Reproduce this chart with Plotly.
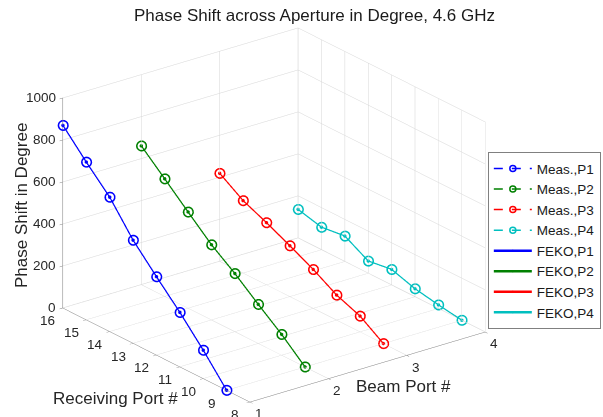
import plotly.graph_objects as go

# ---- data ----
beam_ports = [1, 2, 3, 4]
receiving_ports = [9, 10, 11, 12, 13, 14, 15, 16]
meas_p1 = [0, 135, 259, 373, 491, 640, 751, 870]
meas_p2 = [0, 99, 186, 277, 358, 458, 560, 661]
meas_p3 = [0, 75, 119, 185, 242, 296, 345, 419]
meas_p4 = [0, 17, 38, 74, 58, 121, 107, 136]
feko_p1 = [0, 135, 259, 373, 491, 640, 751, 870]
feko_p2 = [0, 99, 186, 277, 358, 458, 560, 661]
feko_p3 = [0, 75, 119, 185, 242, 296, 345, 419]
feko_p4 = [0, 17, 38, 74, 58, 121, 107, 136]
x_ticks = [1, 2, 3, 4]
y_ticks = [8, 9, 10, 11, 12, 13, 14, 15, 16]
z_ticks = [0, 200, 400, 600, 800, 1000]

colors = ["#0000FF", "#008000", "#FF0000", "#00BFBF"]
meas = [meas_p1, meas_p2, meas_p3, meas_p4]
feko = [feko_p1, feko_p2, feko_p3, feko_p4]

fig = go.Figure()
for i, (bp, vals) in enumerate(zip(beam_ports, meas)):
    fig.add_trace(go.Scatter3d(
        x=[bp] * len(receiving_ports), y=receiving_ports, z=vals,
        mode="lines+markers", name=f"Meas.,P{i+1}",
        line=dict(color=colors[i], width=1.5, dash="dash"),
        marker=dict(symbol="circle-open", size=6, color=colors[i], line=dict(width=1.5, color=colors[i])),
    ))
for i, (bp, vals) in enumerate(zip(beam_ports, feko)):
    fig.add_trace(go.Scatter3d(
        x=[bp] * len(receiving_ports), y=receiving_ports, z=vals,
        mode="lines+markers", name=f"FEKO,P{i+1}",
        line=dict(color=colors[i], width=2.5),
        marker=dict(symbol="circle", size=2, color=colors[i]),
    ))

axis_common = dict(
    showbackground=False, showgrid=True, gridcolor="#d6d6d6", gridwidth=1,
    showline=True, linecolor="#808080", linewidth=1,
    ticks="outside", tickcolor="#808080", ticklen=4,
    showticklabels=False,
    zeroline=False, showspikes=False, autorange=False,
    title=dict(text=""),
)

tick_font = dict(family="Liberation Sans, Arial", size=13.5, color="#262626")
# invisible first annotation (absorbs first-measure glitch)
scene_anns = [dict(x=2.5, y=12, z=500, text=" ", showarrow=False, font=tick_font)]
for v in z_ticks:
    scene_anns.append(dict(x=1, y=16, z=v, text=str(v), showarrow=False,
                           xanchor="right", yanchor="middle", xshift=-5, font=tick_font))
for v in y_ticks:
    scene_anns.append(dict(x=1, y=v, z=0, text=str(v), showarrow=False,
                           xanchor="center", yanchor="middle", xshift=-15, yshift=-13, font=tick_font))
for v in x_ticks:
    scene_anns.append(dict(x=v, y=8, z=0, text=str(v), showarrow=False,
                           xanchor="center", yanchor="middle", xshift=9, yshift=-12, font=tick_font))

th_x, th_y, th_z = -0.5625, -0.7307, 0.387
dist = 1.2
s = 1.47
fig.update_layout(
    width=603, height=417,
    margin=dict(l=0, r=0, t=0, b=0),
    paper_bgcolor="white",
    font=dict(family="Liberation Sans, Arial", color="#262626"),
    title=dict(text="Phase Shift across Aperture in Degree, 4.6 GHz",
               x=0.5216, xanchor="center", y=0.964, yanchor="middle",
               font=dict(size=17, color="#1a1a1a")),
    scene=dict(
        domain=dict(x=[0.0, 0.909], y=[0.0, 0.969]),
        xaxis=dict(axis_common, range=[0.999, 4.001], tickvals=x_ticks),
        yaxis=dict(axis_common, range=[8, 16.001], tickvals=y_ticks),
        zaxis=dict(axis_common, range=[-0.5, 1000], tickvals=z_ticks),
        aspectmode="manual", aspectratio=dict(x=1 * s, y=1.033 * s, z=0.767 * s),
        camera=dict(eye=dict(x=th_x * dist, y=th_y * dist, z=th_z * dist),
                    center=dict(x=0, y=0, z=0), up=dict(x=0, y=0, z=1),
                    projection=dict(type="orthographic")),
        annotations=scene_anns,
    ),
    legend=dict(x=0.809, y=0.635, xanchor="left", yanchor="top",
                bordercolor="#808080", borderwidth=1, bgcolor="white",
                font=dict(size=13.5, family="Liberation Sans, Arial", color="#1a1a1a"),
                tracegroupgap=0, itemwidth=38),
)
label_font = dict(size=17, family="Liberation Sans, Arial", color="#262626")
labels = [("Phase Shift in Degree", 21, 206, -90), ("Receiving Port #", 115, 398, 0), ("Beam Port #", 403, 386, 0)]
fig.update_layout(annotations=[
    dict(text=t, x=px / 603, y=1 - py / 417, xref="paper", yref="paper", showarrow=False,
         textangle=ang, font=label_font, xanchor="center", yanchor="middle")
    for t, px, py, ang in labels
])

fig.write_html("out.html")
